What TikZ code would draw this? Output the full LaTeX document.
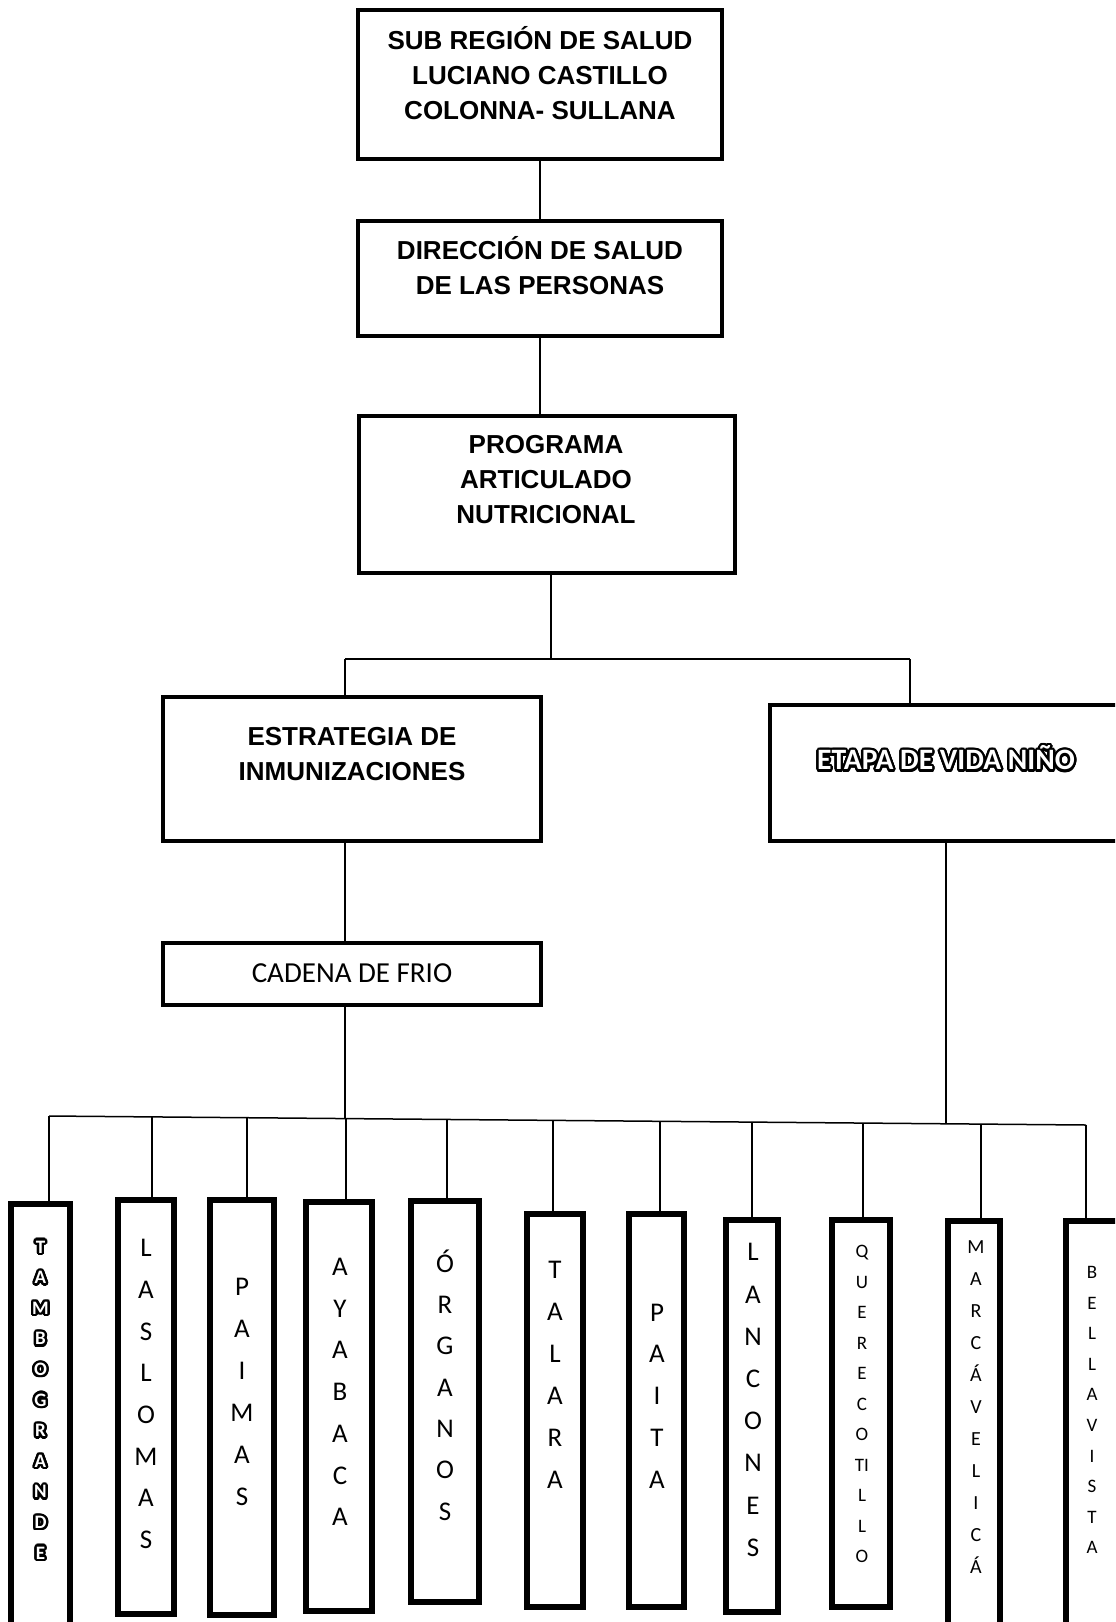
\documentclass[tikz,border=0pt]{standalone}
\usepackage{fontspec}
\newfontfamily\arialf{Liberation Sans}
\newfontfamily\calf{Carlito}
\usetikzlibrary{calc}
% outlined text: white letters with a black contour
\newcommand\outl[2]{\leavevmode
  \foreach \ang in {0,20,...,340}{%
    \pgfmathsetlengthmacro\odx{#1*cos(\ang)}%
    \pgfmathsetlengthmacro\ody{#1*sin(\ang)}%
    \rlap{\kern\odx\raise\ody\hbox{\color{black}#2}}}%
  \hbox{\color{white}#2}}
\newcommand\olt[1]{\outl{1.2pt}{#1}}
\newcommand\mkbox[6][]{%
  \pgfmathsetmacro\bxw{(#5-#3)*0.5}%
  \pgfmathsetmacro\bxh{(#6-#4)*0.5}%
  \node[#1, minimum width=\bxw pt, minimum height=\bxh pt] (#2) at ({(#3+#5)/2},{(#4+#6)/2}) {};}
\begin{document}
\begin{tikzpicture}[x=0.5pt,y=-0.5pt,
  topbox/.style={draw, line width=2.25pt, inner sep=0pt, outer sep=0pt},
  locbox/.style={draw, line width=3pt, inner sep=0pt, outer sep=0pt},
  link/.style={line width=0.75pt},
  toptext/.style={font=\arialf\bfseries\fontsize{13pt}{17.5pt}\selectfont, align=center, inner sep=0pt},
  vlet/.style={align=center, inner sep=0pt}]
\fill[white] (0,0) rectangle (1115,1622);
\useasboundingbox (0,0) rectangle (1115,1622);
\clip (0,0) rectangle (1115,1622);

% upper boxes
\mkbox[topbox]{sub}{358}{10}{722}{159}
\mkbox[topbox]{dir}{358}{221}{722}{336}
\mkbox[topbox]{prog}{359}{416}{735}{573}
\mkbox[topbox]{estr}{163}{697}{541}{841}
\mkbox[topbox]{etapa}{770}{705}{1130}{841}
\mkbox[topbox]{cad}{163}{943}{541}{1005}

\node[toptext] (tsub) at (540,73) {SUB REGIÓN DE SALUD\\LUCIANO CASTILLO\\COLONNA- SULLANA};
\node[toptext] (tdir) at (540,266) {DIRECCIÓN DE SALUD\\DE LAS PERSONAS};
\node[toptext] (tprog) at (546,480) {PROGRAMA\\ARTICULADO\\NUTRICIONAL};
\node[toptext] (testr) at (352,754) {ESTRATEGIA DE\\INMUNIZACIONES};
\node[inner sep=0pt, font=\calf\bfseries\fontsize{14.8pt}{17pt}\selectfont] (tetapa) at (946,758) {\outl{1.2pt}{ETAPA DE VIDA NIÑO}};
\node[inner sep=0pt, font=\calf\fontsize{14.5pt}{17pt}\selectfont] (tcad) at (352,973) {CADENA DE FRIO};

% lower boxes
\mkbox[locbox]{b1}{11}{1204}{70}{1650}
\mkbox[locbox]{b2}{118}{1200}{174}{1614}
\mkbox[locbox]{b3}{210}{1200}{274}{1615}
\mkbox[locbox]{b4}{306}{1202}{372}{1611}
\mkbox[locbox]{b5}{411}{1201}{479}{1602}
\mkbox[locbox]{b6}{527}{1214}{583}{1607}
\mkbox[locbox]{b7}{629}{1214}{684}{1607}
\mkbox[locbox]{b8}{726}{1220}{778}{1612}
\mkbox[locbox]{b9}{832}{1220}{890}{1607}
\mkbox[locbox]{b10}{948}{1221}{1000}{1650}
\mkbox[locbox]{b11}{1066}{1221}{1125}{1650}

\node[vlet, font=\calf\bfseries\fontsize{9.5pt}{15.3pt}\selectfont] (l1) at (40.5,1400)
  {\olt{T}\\\olt{A}\\\olt{M}\\\olt{B}\\\olt{O}\\\olt{G}\\\olt{R}\\\olt{A}\\\olt{N}\\\olt{D}\\\olt{E}};
\node[vlet, font=\calf\fontsize{13.5pt}{20.85pt}\selectfont] (l2) at (146,1394) {L\\A\\S\\L\\O\\M\\A\\S};
\node[vlet, font=\calf\fontsize{13.5pt}{21pt}\selectfont] (l3) at (242,1392) {P\\A\\I\\M\\A\\S};
\node[vlet, font=\calf\fontsize{13.5pt}{20.85pt}\selectfont] (l4) at (340,1392) {A\\Y\\A\\B\\A\\C\\A};
\node[vlet, font=\calf\fontsize{13.5pt}{20.7pt}\selectfont] (l5) at (445,1385) {Ó\\R\\G\\A\\N\\O\\S};
\node[vlet, font=\calf\fontsize{13.5pt}{21pt}\selectfont] (l6) at (555,1375) {T\\A\\L\\A\\R\\A};
\node[vlet, font=\calf\fontsize{13.5pt}{20.9pt}\selectfont] (l7) at (657,1396) {P\\A\\I\\T\\A};
\node[vlet, font=\calf\fontsize{13.5pt}{21.1pt}\selectfont] (l8) at (753,1400) {L\\A\\N\\C\\O\\N\\E\\S};
\node[vlet, font=\calf\fontsize{9.5pt}{15.25pt}\selectfont] (l9) at (862,1404) {Q\\U\\E\\R\\E\\C\\O\\TI\\L\\L\\O};
\node[vlet, font=\calf\fontsize{10pt}{16pt}\selectfont] (l10) at (976,1407) {M\\A\\R\\C\\Á\\V\\E\\L\\I\\C\\Á};
\node[vlet, font=\calf\fontsize{9.5pt}{15.3pt}\selectfont] (l11) at (1092,1410) {B\\E\\L\\L\\A\\V\\I\\S\\T\\A};

% connectors
\draw[link] (sub.south) -- (dir.north);
\draw[link] (dir.south) -- (dir.south |- prog.north);
\coordinate (jL) at (345,659);
\coordinate (jR) at (910,659);
\coordinate (jT) at (551,659);
\draw[link] (jT |- prog.south) -- (jT);
\draw[link] (jL) -- (jR);
\draw[link] (jL) -- (jL |- estr.north);
\draw[link] (jR) -- (jR |- etapa.north);
\draw[link] (jL |- estr.south) -- (jL |- cad.north);

\coordinate (busL) at (49,1116);
\coordinate (busR) at (1086,1125);
\draw[link] (busL) -- (busR);
\coordinate (dc) at ($(busL)!0.2854!(busR)$);
\draw[link] (dc |- cad.south) -- (dc);
\coordinate (de) at ($(busL)!0.8650!(busR)$);
\draw[link] (de |- etapa.south) -- (de);
\foreach \t [count=\i] in {0,0.0993,0.1909,0.2864,0.3838,0.4860,0.5892,0.6779,0.7850,0.8987,1.0}{
  \coordinate (d\i) at ($(busL)!\t!(busR)$);
  \draw[link] (d\i) -- (d\i |- b\i.north);
}
\end{tikzpicture}
\end{document}
